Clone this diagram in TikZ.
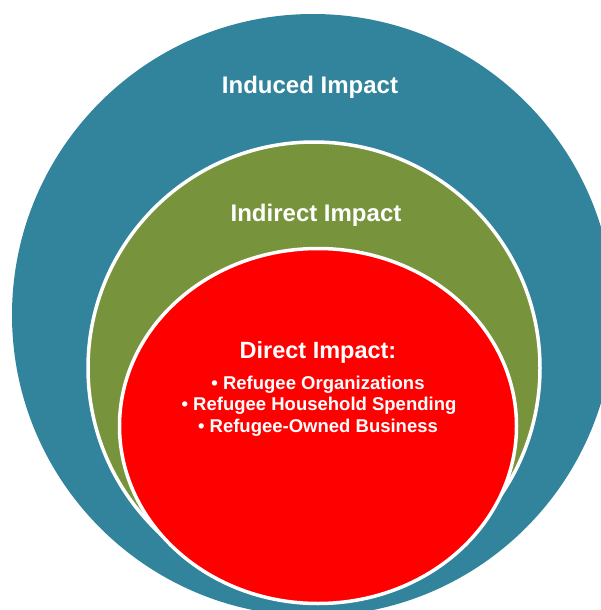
\documentclass[tikz,border=0pt]{standalone}
\usepackage{fontspec}
\setmainfont{Liberation Sans}
\usepackage{xcolor}
\definecolor{impactteal}{HTML}{31849B}
\definecolor{impactgreen}{HTML}{77933C}
\definecolor{impactred}{HTML}{FF0000}

\begin{document}
\begin{tikzpicture}[x=1pt, y=-1pt,
    every node/.style={text=white, inner sep=0pt, anchor=base},
    ringlabel/.style={font=\fontsize{24}{28}\selectfont\bfseries},
    bulletitem/.style={font=\fontsize{18.5}{21.5}\selectfont\bfseries}]

    \useasboundingbox (0,0) rectangle (601,610);
    \clip (0,0) rectangle (601,610);

    % Centres of the three rings
    \coordinate (C1) at (313, 315);
    \coordinate (C2) at (314, 368);
    \coordinate (C3) at (318, 426);

    % Outer ring: induced impact
    \fill[impactteal] (C1) circle (301pt);

    % Middle ring: indirect impact
    \filldraw[fill=impactgreen, draw=white, line width=3.5pt] (C2) circle (226pt);

    % Inner ring: direct impact
    \filldraw[fill=impactred, draw=white, line width=3.5pt] (C3) ellipse [x radius=198.5pt, y radius=177.5pt];

    % Ring labels
    \node[ringlabel] (induced) at (310, 93) {Induced Impact};
    \node[ringlabel] (indirect) at (316, 221) {Indirect Impact};
    \node[ringlabel, font=\fontsize{23.5}{28}\selectfont\bfseries] (direct) at (318, 358) {Direct Impact:};

    % Bullet list
    \node[bulletitem] (item1) at (318, 389) {• Refugee Organizations};
    \node[bulletitem] (item2) at (319, 410.5) {• Refugee Household Spending};
    \node[bulletitem] (item3) at (318, 432) {• Refugee-Owned Business};

\end{tikzpicture}
\end{document}
